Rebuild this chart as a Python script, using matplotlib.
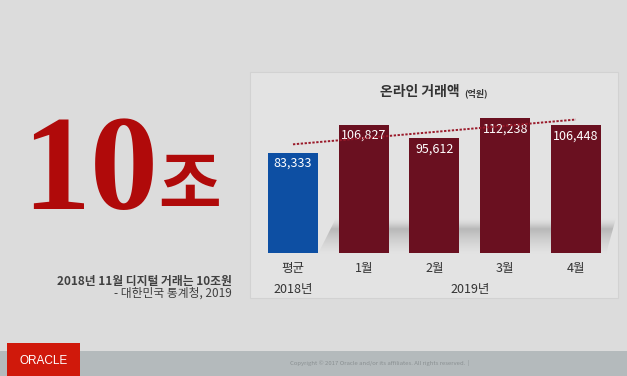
import numpy as np
import matplotlib
matplotlib.use("Agg")
import matplotlib.pyplot as plt
from matplotlib.patches import Rectangle, Polygon
from matplotlib.colors import to_rgb

plt.rcParams['font.family'] = ['Noto Sans CJK KR', 'DejaVu Sans']

# 資料
categories = ['평균', '1월', '2월', '3월', '4월']
values = [83333, 106827, 95612, 112238, 106448]
value_labels = ['83,333', '106,827', '95,612', '112,238', '106,448']
bar_colors = ['#0d4fa3', '#6a1020', '#6a1020', '#6a1020', '#6a1020']
year_labels = ['2018년', '2019년']
title = '온라인 거래액'
unit = '(억원)'
big_number = '10'
big_unit = '조'
quote_line1 = '2018년 11월 디지털 거래는 10조원'
quote_line2 = '- 대한민국 통계청, 2019'
copyright_text = 'Copyright © 2017 Oracle and/or its affiliates. All rights reserved.  |'

W, H = 627, 376
fig = plt.figure(figsize=(W / 100, H / 100), dpi=100)
fig.patch.set_facecolor('#dcdcdc')

# 背景 (像素座標)
bg = fig.add_axes([0, 0, 1, 1], zorder=0)
bg.set_xlim(0, W)
bg.set_ylim(H, 0)
bg.axis('off')

bg.add_patch(Rectangle((250, 72), 368, 226, facecolor='#e3e3e3',
                       edgecolor='#d2d2d2', lw=0.8))

# 柱子後方的陰影 (柔和漸層)
panel = np.array(to_rgb('#e3e3e3'))
dark = np.array(to_rgb('#b8b8b8'))
t = np.linspace(0, 1, 80)
w = np.where(t < 0.3, (t / 0.3) ** 1.5, (1 - (t - 0.3) / 0.7) ** 1.3)
grad = panel[None, :] * (1 - w[:, None]) + dark[None, :] * w[:, None]
img = bg.imshow(grad[:, None, :], extent=(300, 616, 254, 218), aspect='auto',
                zorder=1, interpolation='bilinear')
shadow = Polygon([(318, 254), (336, 218), (616, 218), (606, 254)],
                 closed=True, transform=bg.transData)
img.set_clip_path(shadow)

# 頁尾
bg.add_patch(Rectangle((0, 351), W, 25, facecolor='#b4babc', edgecolor='none'))
bg.add_patch(Rectangle((7, 343), 73, 33, facecolor='#d0190b', edgecolor='none'))
bg.text(44, 361, 'ORACLE', color='white', fontsize=8.5, ha='center', va='center',
        family=['Liberation Sans', 'DejaVu Sans'])
bg.text(290, 363, copyright_text, color='#8a9092', fontsize=4.3, ha='left', va='center')

# 左側大字
bg.text(22, 209, big_number, color='#b00a0a', fontsize=98, fontweight='bold',
        ha='left', va='baseline', family=['Liberation Serif', 'DejaVu Serif'])
bg.text(158, 207, big_unit, color='#b00a0a', fontsize=49, fontweight='bold',
        ha='left', va='baseline')
bg.text(232, 281, quote_line1, color='#404040', fontsize=8.5, fontweight='bold',
        ha='right', va='center')
bg.text(232, 293, quote_line2, color='#404040', fontsize=8.5,
        ha='right', va='center')

# 標題
bg.text(420, 92, title, color='#333333', fontsize=10, fontweight='bold',
        ha='center', va='center')
bg.text(476, 93, unit, color='#333333', fontsize=6.5, fontweight='bold',
        ha='center', va='center')

# 長條圖
ax = fig.add_axes([257.6 / W, (H - 253) / H, 353.75 / W, 150 / H], zorder=2)
ax.patch.set_alpha(0)
x = np.arange(len(values))
ax.bar(x, values, width=0.707, color=bar_colors, zorder=2)
ax.set_xlim(-0.5, len(values) - 0.5)
ax.set_ylim(0, 125000)
ax.axis('off')

for xi, v, lab in zip(x, values, value_labels):
    ax.annotate(lab, (xi, v), xytext=(0, -7.5), textcoords='offset points',
                ha='center', va='center', color='white', fontsize=9, zorder=3)

# 趨勢線
coef = np.polyfit(x, values, 1)
ax.plot(x, np.polyval(coef, x), color='#9a1a2a', lw=1.4,
        linestyle=(0, (1.2, 0.8)), zorder=3)

for xi, c in zip(x, categories):
    ax.annotate(c, (xi, 0), xytext=(0, -11.5), textcoords='offset points',
                ha='center', va='center', color='#333333', fontsize=9)
ax.annotate(year_labels[0], (0, 0), xytext=(0, -26.5), textcoords='offset points',
            ha='center', va='center', color='#333333', fontsize=9)
ax.annotate(year_labels[1], (2.5, 0), xytext=(0, -26.5), textcoords='offset points',
            ha='center', va='center', color='#333333', fontsize=9)

fig.savefig('out.png', dpi=100, facecolor=fig.get_facecolor())
